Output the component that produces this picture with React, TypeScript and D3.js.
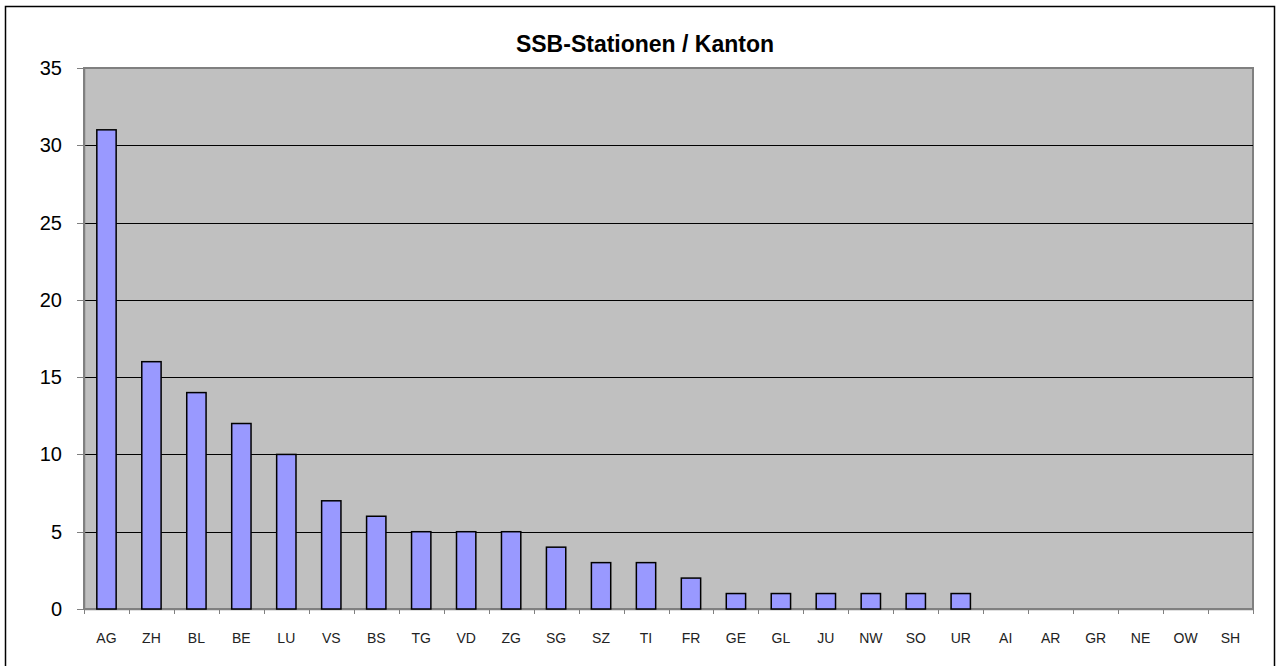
import React from 'react';
import * as d3 from 'd3';

const CANTONS = ['AG', 'ZH', 'BL', 'BE', 'LU', 'VS', 'BS', 'TG', 'VD', 'ZG', 'SG', 'SZ', 'TI', 'FR', 'GE', 'GL', 'JU', 'NW', 'SO', 'UR', 'AI', 'AR', 'GR', 'NE', 'OW', 'SH'];
const STATIONS = [31, 16, 14, 12, 10, 7, 6, 5, 5, 5, 4, 3, 3, 2, 1, 1, 1, 1, 1, 1, 0, 0, 0, 0, 0, 0];
const Y_TICKS = [0, 5, 10, 15, 20, 25, 30, 35];

const W = 1281;
const H = 666;
const plot = { left: 84, right: 1253, top: 68, bottom: 609 };

export default function App() {
  const x = d3.scaleBand().domain(CANTONS).range([plot.left, plot.right]);
  const y = d3.scaleLinear().domain([0, 35]).range([plot.bottom, plot.top]);
  const barW = x.bandwidth() * 0.43;
  const font = 'Arial, "Liberation Sans", sans-serif';

  return (
    <svg width={W} height={H} style={{ position: 'absolute', left: 0, top: 0, background: '#fff' }}>
      {/* outer frame */}
      <path d={`M5.5,${H} V6.5 H1274.5 V${H}`} fill="none" stroke="#000" strokeWidth={1.5} />
      <text x={645} y={52} textAnchor="middle" fontFamily={font} fontWeight="bold" fontSize={23} fill="#000">
        SSB-Stationen / Kanton
      </text>
      <rect x={plot.left} y={plot.top} width={plot.right - plot.left} height={plot.bottom - plot.top} fill="#c0c0c0" stroke="#808080" strokeWidth={2} />
      {Y_TICKS.filter((t) => t > 0 && t < 35).map((t) => (
        <line key={t} x1={plot.left} x2={plot.right} y1={Math.round(y(t)) + 0.5} y2={Math.round(y(t)) + 0.5} stroke="#000" strokeWidth={1} />
      ))}
      {/* axes */}
      <line x1={plot.left + 0.5} x2={plot.left + 0.5} y1={plot.top} y2={plot.bottom} stroke="#808080" strokeWidth={1.5} />
      <line x1={plot.left} x2={plot.right} y1={plot.bottom + 0.5} y2={plot.bottom + 0.5} stroke="#808080" strokeWidth={1.5} />
      {Y_TICKS.map((t) => (
        <g key={t}>
          <line x1={plot.left - 7} x2={plot.left} y1={Math.round(y(t)) + 0.5} y2={Math.round(y(t)) + 0.5} stroke="#808080" />
          <text x={62} y={y(t)} dy="0.35em" textAnchor="end" fontFamily={font} fontSize={20} fill="#000">
            {t}
          </text>
        </g>
      ))}
      {[...CANTONS.map((c) => x(c) as number), plot.right].map((px, i) => (
        <line key={i} x1={Math.round(px) + 0.5} x2={Math.round(px) + 0.5} y1={plot.bottom} y2={plot.bottom + 5} stroke="#808080" />
      ))}
      {CANTONS.map((c, i) => {
        const cx = (x(c) as number) + x.bandwidth() / 2;
        return (
          <g key={c}>
            {STATIONS[i] > 0 && (
              <rect
                x={cx - barW / 2}
                y={y(STATIONS[i])}
                width={barW}
                height={y(0) - y(STATIONS[i])}
                fill="#9999ff"
                stroke="#000"
                strokeWidth={1.5}
              />
            )}
            <text x={cx} y={643} textAnchor="middle" fontFamily={font} fontSize={14} fill="#222">
              {c}
            </text>
          </g>
        );
      })}
    </svg>
  );
}
